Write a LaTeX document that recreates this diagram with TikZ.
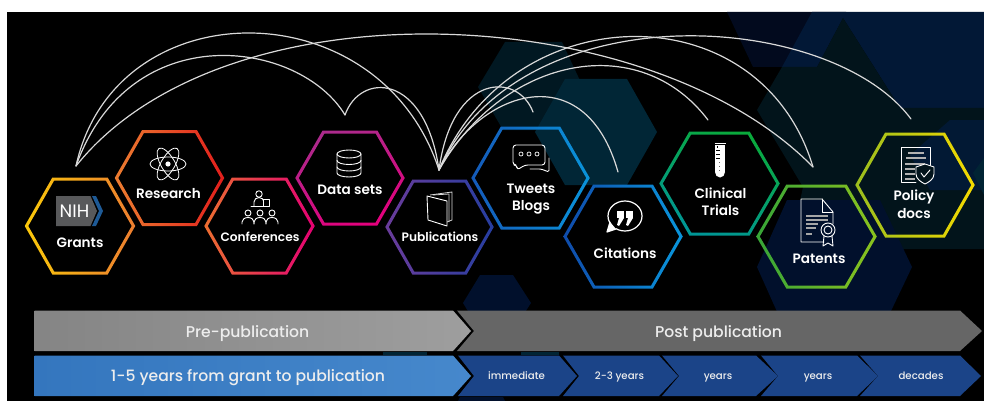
\documentclass[tikz,border=0pt]{standalone}
\usepackage{fontspec}
\setmainfont{Poppins}
\newfontfamily\labfont{Poppins SemiBold}
\newfontfamily\barfont{Poppins Medium}
\newcommand{\hexring}[5]{%
  \pgfmathsetmacro{\wo}{#3+1.75}\pgfmathsetmacro{\ho}{#4+1.5}\pgfmathsetmacro{\ao}{#3/2+0.9}%
  \pgfmathsetmacro{\wi}{#3-1.75}\pgfmathsetmacro{\hi}{#4-1.5}\pgfmathsetmacro{\ai}{#3/2-0.9}%
  \shade[shift={(#1,#2)},even odd rule,#5]
    (-\wo,0)--(-\ao,-\ho)--(\ao,-\ho)--(\wo,0)--(\ao,\ho)--(-\ao,\ho)--cycle
    (-\wi,0)--(-\ai,-\hi)--(\ai,-\hi)--(\wi,0)--(\ai,\hi)--(-\ai,\hi)--cycle;}
\begin{document}
\begin{tikzpicture}[x=1pt,y=-1pt,
  arc/.style={draw=black!15,line width=1.2pt,line cap=round},
  lab/.style={text=white,font=\labfont\fontsize{13.6}{17.5}\selectfont,inner sep=0pt,align=center},
  labsmall/.style={text=white,font=\labfont\fontsize{12.2}{15}\selectfont,inner sep=0pt,align=center},
  barlab/.style={text=white!93!black,inner sep=0pt,anchor=base,font=\barfont\fontsize{15.6}{18}\selectfont},
  chevlab/.style={text=white!93!black,inner sep=0pt,anchor=base,font=\barfont\fontsize{10.2}{12}\selectfont},
  icon/.style={draw=white,line width=0.9pt,line join=round,line cap=round},
  iconthin/.style={draw=white!85!black,line width=0.8pt},
]
\useasboundingbox (0,0) rectangle (984,401);
\fill[white] (0,0) rectangle (984,401);
\fill[black] (7,12) rectangle (984,401);
% background hexagons
\fill[fill={rgb,255:red,2;green,10;blue,30}] (727,12)--(753,67)--(817,67)--(846,12)--cycle;
\fill[fill={rgb,255:red,2;green,24;blue,54}] (812,12)--(782,67)--(817,67)--(843,18)--(900,108)--(984,108)--(984,12)--cycle;
\fill[fill={rgb,255:red,2;green,20;blue,27}] (843,18)--(817,67)--(782,67)--(757,110)--(803,187)--(790,249)--(984,249)--(984,108)--(900,108)--cycle;
\fill[fill={rgb,255:red,1;green,16;blue,44}] (757,267)--(787,200)--(880,200)--(912,267)--(880,334)--(787,334)--cycle;
\fill[fill={rgb,255:red,2;green,25;blue,52}] (950,120)--(984,120)--(984,190)--(930,190)--(910,155)--cycle;
\fill[fill={rgb,255:red,1;green,36;blue,52}] (984,158)--(973,173)--(984,195)--cycle;
\fill[fill={rgb,255:red,1;green,24;blue,34}] (505,42)--(562,42)--(583,87)--(560,130)--(503,130)--(478,87)--cycle;
\fill[fill={rgb,255:red,1;green,38;blue,54}] (565,79)--(627,79)--(657,132)--(627,185)--(565,185)--(535,132)--cycle;
\fill[fill={rgb,255:red,1;green,16;blue,44}] (480,275)--(513,275)--(531,303)--(513,331)--(480,331)--(463,303)--cycle;
\fill[fill={rgb,255:red,1;green,36;blue,52}] (383,352) rectangle (427,355);
\fill[fill={rgb,255:red,1;green,36;blue,52}] (521,352) rectangle (559,355);
\fill[fill={rgb,255:red,1;green,16;blue,44}] (458,401)--(460,397)--(503,397)--(505,401)--cycle;
% arc end points
\coordinate (aGrants) at (76,166);
\coordinate (aData) at (345,115);
\coordinate (aPub) at (439,170);
\coordinate (aTweets) at (533,112);
\coordinate (aCite) at (618,172);
\coordinate (aClin) at (708,120);
\coordinate (aPat) at (813,167);
\coordinate (aPol) at (911,119);
% arcs
\draw[arc] (aGrants) .. controls (115,-12) and (380,-12) .. (aPub);
\draw[arc] (aGrants) .. controls (130,15) and (300,40) .. (aData);
\draw[arc] (aGrants) .. controls (225,-20) and (650,0) .. (aPat);
\draw[arc] (aData) .. controls (360,72) and (425,72) .. (aPub);
\draw[arc] (aPub) .. controls (452,72) and (518,72) .. (aTweets);
\draw[arc] (aPub) .. controls (480,90) and (585,55) .. (aCite);
\draw[arc] (aPub) .. controls (505,55) and (640,30) .. (aClin);
\draw[arc] (aPub) .. controls (510,-5) and (760,-10) .. (aPat);
\draw[arc] (aPub) .. controls (520,-10) and (830,10) .. (aPol);
% hexagons
\hexring{80}{226}{53.5}{47}{left color={rgb,255:red,250;green,200;blue,10},right color={rgb,255:red,236;green,125;blue,48}}
\hexring{169.5}{178}{53}{46.5}{left color={rgb,255:red,236;green,125;blue,48},right color={rgb,255:red,226;green,30;blue,28}}
\hexring{259.5}{226}{53.5}{47}{left color={rgb,255:red,236;green,110;blue,48},middle color={rgb,255:red,226;green,24;blue,50},right color={rgb,255:red,228;green,0;blue,115}}
\hexring{350}{178}{53}{46}{top color={rgb,255:red,172;green,42;blue,140},bottom color={rgb,255:red,228;green,0;blue,125},shading angle=20}
\hexring{439.5}{227}{52.5}{46}{left color={rgb,255:red,106;green,60;blue,155},right color={rgb,255:red,38;green,62;blue,160}}
\hexring{530.5}{178}{57.5}{50}{left color={rgb,255:red,20;green,90;blue,185},right color={rgb,255:red,10;green,148;blue,218}}
\hexring{623}{236.5}{58}{50.5}{left color={rgb,255:red,15;green,75;blue,170},right color={rgb,255:red,10;green,150;blue,220}}
\hexring{719.5}{183.5}{58.5}{50.5}{top color={rgb,255:red,10;green,170;blue,60},bottom color={rgb,255:red,0;green,150;blue,150},shading angle=-20}
\hexring{816.5}{236.5}{58.5}{50.5}{left color={rgb,255:red,55;green,165;blue,55},right color={rgb,255:red,140;green,195;blue,30}}
\hexring{915}{185}{58}{51}{left color={rgb,255:red,155;green,190;blue,30},right color={rgb,255:red,245;green,218;blue,0}}
% labels
\node[lab] (grants) at (80,243) {Grants};
\node[lab] (research) at (168.5,194) {Research};
\node[labsmall] (conf) at (260,237) {Conferences};
\node[lab] (data) at (350,190) {Data sets};
\node[labsmall] (pubs) at (440,237) {Publications};
\node[lab] (tweets) at (531,199) {Tweets\\Blogs};
\node[lab] (cites) at (625,253) {Citations};
\node[lab] (clin) at (720.5,201.5) {Clinical\\Trials};
\node[lab] (pats) at (819,259) {Patents};
\node[lab] (policy) at (914,204) {Policy\\docs};
% NIH
\fill[fill={rgb,255:red,88;green,89;blue,91}] (56,196)--(90.5,196)--(97,211)--(90.5,226)--(56,226)--cycle;
\fill[fill={rgb,255:red,30;green,90;blue,150}] (92,196)--(96,196)--(103,211)--(96,226)--(92,226)--(99,211)--cycle;
\node[text=white,inner sep=0pt,font=\fontsize{18}{18}\selectfont] (nih) at (74.5,211) {NIH};
% atom
\begin{scope}[shift={(168,164)}]
\draw[icon,line width=.8pt] (0,0) ellipse [x radius=18,y radius=7];
\draw[icon,line width=.8pt,rotate=60] (0,0) ellipse [x radius=18,y radius=7];
\draw[icon,line width=.8pt,rotate=120] (0,0) ellipse [x radius=18,y radius=7];
\fill[white] (0,0) circle [radius=2.6];
\end{scope}
% conference people
\begin{scope}[shift={(260,208)}]
\draw[icon] (-1,-14) circle [radius=3.2];
\draw[icon] (-6,-2)--(-6,-6) arc[start angle=180,end angle=360,x radius=5,y radius=4.5]--(4,-2);
\draw[icon] (-9,-2)--(9,-2);
\draw[icon,fill=black] (3,-9)--(9,-9)--(9,-2)--(3,-2)--cycle;
\foreach \px in {-12,0,12}{
\draw[icon] (\px,5) circle [radius=3];
\draw[icon] (\px-6,16)--(\px-6,14) arc[start angle=180,end angle=360,x radius=6,y radius=4.5]--(\px+6,16);}
\end{scope}
% database
\begin{scope}[shift={(349,150)}]
\draw[icon] (-12,4)--(-12,23) arc[start angle=180,end angle=0,x radius=12,y radius=4]--(12,4);
\draw[icon] (0,4) ellipse [x radius=12,y radius=4];
\draw[icon] (-12,10.5) arc[start angle=180,end angle=0,x radius=12,y radius=4];
\draw[icon] (-12,17) arc[start angle=180,end angle=0,x radius=12,y radius=4];
\end{scope}
% book
\draw[iconthin] (430,195)--(452,192)--(452,220)--(447,222);
\draw[iconthin] (433,195)--(449,194)--(449,222);
\draw[icon,fill=black] (427,196)--(447,201)--(447,226)--(428,220)--cycle;
% chat bubbles
\draw[icon,rounded corners=1.5pt] (549,158)--(549,172)--(541,169)--(530,169);
\draw[icon,rounded corners=3pt] (513,145)--(545,145)--(545,165)--(525,165)--(517,170)--(517,165)--(513,165)--cycle;
\foreach \dx in {521,529,537}{\draw[icon,line width=.7pt] (\dx,154) circle [radius=2];}
% quote bubble
\draw[icon,line width=1.2pt] (625,216) ellipse [x radius=17,y radius=15];
\fill[black] (608,224) rectangle (616,231);
\draw[icon,line width=1.2pt,fill=white] (610,222)--(607,232)--(616,229);
\fill[white] (617,211) rectangle (624,218);
\fill[white] (624,218)--(619,226)--(617,225)--(619,218)--cycle;
\fill[white] (626,211) rectangle (633,218);
\fill[white] (633,218)--(628,226)--(626,225)--(628,218)--cycle;
% test tube
\draw[white,line width=1pt] (714.5,143)--(725.5,143);
\fill[white] (715,145) rectangle (725,172);
\fill[white] (715,172) arc[start angle=180,end angle=0,x radius=5,y radius=5.5];
\fill[black] (716.5,146) rectangle (718,148);
\foreach \ty in {150,154,158}{\fill[black] (716,\ty) rectangle (720,\ty+1);}
\foreach \ty in {162,166,170}{\fill[black!60] (719,\ty) rectangle (720,\ty+1);}
% patent document
\draw[icon] (833,224)--(833,212)--(822,199)--(801,199)--(801,242)--(824,242);
\draw[icon] (822,199)--(822,212)--(833,212);
\foreach \ly/\lx in {216/828,220/828,224/818,228/816,234/812}{\draw[draw=white!65!black,line width=1.2pt] (806,\ly)--(\lx,\ly);}
\draw[icon] (828,230) circle [radius=7];
\draw[icon] (828,230) circle [radius=4];
\draw[icon] (824,236)--(823,246)--(828,243)--(833,246)--(832,236);
% policy document
\draw[icon] (925,165)--(930,165)--(930,147)--(901,147)--(901,182)--(916,182);
\foreach \ly/\la/\lb in {153/908/924,158/906/926,164/905/925,169/905/915,174/905/915,179/905/915}{\draw[draw=white!70!black,line width=1.1pt] (\la,\ly)--(\lb,\ly);}
\draw[icon,fill={rgb,255:red,2;green,20;blue,28}] (925,164)--(934,167)--(934,174) .. controls (934,179) and (929,182) .. (925,184) .. controls (921,182) and (916,179) .. (916,174)--(916,167)--cycle;
\draw[icon] (921,173)--(924,177)--(930,170);
% bars
\shade[left color=black!48,right color=black!38] (34.5,310.5)--(453,310.5)--(471,331)--(453,351)--(34.5,351)--cycle;
\node[barlab] (pre) at (247.5,337) {Pre-publication};
\fill[fill=black!60] (457,310.5)--(960,310.5)--(982,331)--(960,351)--(457,351)--(474,331)--cycle;
\node[barlab] (post) at (718.5,337) {Post publication};
\shade[left color={rgb,255:red,52;green,118;blue,190},right color={rgb,255:red,70;green,136;blue,204}] (34.5,355.5)--(453,355.5)--(471,376)--(453,396)--(34.5,396)--cycle;
\node[barlab] (lead) at (248,381.5) {1-5 years from grant to publication};
\foreach \a/\b/\c/\d/\nm/\tx/\mx in {458/474/559/577/c1/immediate/516.5,563/579/659/678/c2/2-3 years/619.5,662/679/756/778/c3/years/718,761/778/857/878/c4/years/818,860/878/960/981/c5/decades/921}{
\fill[fill={rgb,255:red,27;green,68;blue,136}] (\a,355.5)--(\c,355.5)--(\d,376)--(\c,396)--(\a,396)--(\b,376)--cycle;
\node[chevlab] (\nm) at (\mx,379.5) {\tx};}
\end{tikzpicture}
\end{document}
